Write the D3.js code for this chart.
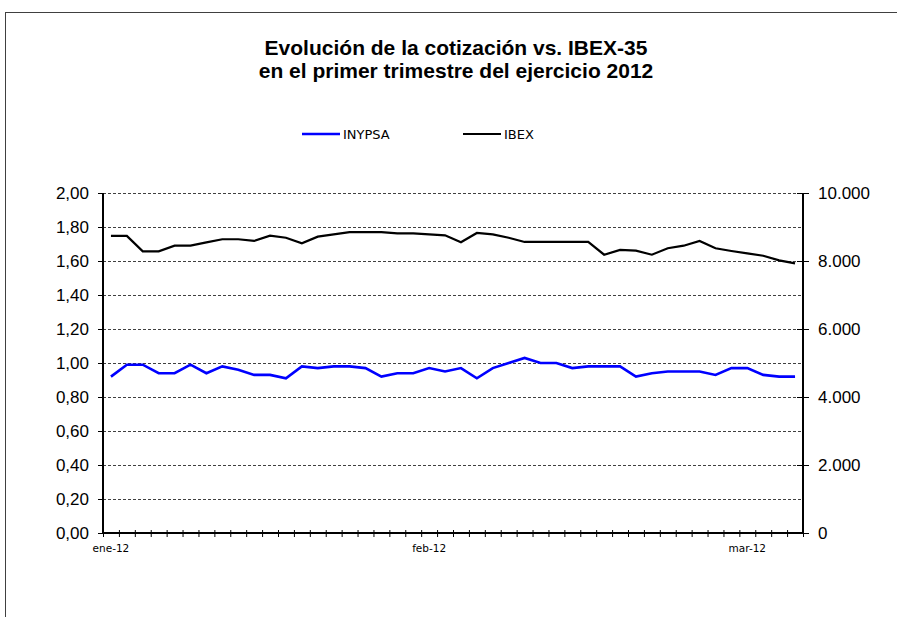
<!DOCTYPE html>
<html>
<head>
<meta charset="utf-8">
<script src="https://cdn.jsdelivr.net/npm/d3@7"></script>
<style>
  body { margin: 0; background: #fff; }
  text { font-family: "Liberation Sans", Arial, sans-serif; }
</style>
</head>
<body>
<script>
  // data (one value per session)
  var inypsa = [0.92, 0.99, 0.99, 0.94, 0.94, 0.99, 0.94, 0.98, 0.96, 0.93, 0.93, 0.91,
                0.98, 0.97, 0.98, 0.98, 0.97, 0.92, 0.94, 0.94, 0.97, 0.95, 0.97, 0.91,
                0.97, 1.00, 1.03, 1.00, 1.00, 0.97, 0.98, 0.98, 0.98, 0.92, 0.94, 0.95,
                0.95, 0.95, 0.93, 0.97, 0.97, 0.93, 0.92, 0.92];
  var ibex = [8740, 8740, 8285, 8285, 8450, 8450, 8550, 8640, 8640, 8590, 8745, 8685,
              8520, 8715, 8785, 8850, 8850, 8850, 8815, 8815, 8785, 8755, 8550, 8825,
              8785, 8685, 8560, 8560, 8560, 8560, 8560, 8185, 8325, 8305, 8185, 8375,
              8450, 8590, 8375, 8295, 8225, 8155, 8020, 7930];
  var monthLabels = ['ene-12', 'feb-12', 'mar-12'];
  var labelEvery = 20;
  var leftTicks = d3.range(0, 2.001, 0.2);
  var rightTicks = d3.range(0, 10001, 2000);
  var seriesNames = ['INYPSA', 'IBEX'];
  var titleLines = ['Evolución de la cotización vs. IBEX-35', 'en el primer trimestre del ejercicio 2012'];

  var W = 897, H = 617;
  var pLeft = 103, pRight = 803, pTop = 193, pBottom = 533;

  var svg = d3.select('body').append('svg').attr('width', W).attr('height', H);

  // outer chart frame (runs off the right and bottom edges)
  svg.append('rect')
    .attr('x', 5.5).attr('y', 12.5).attr('width', 1000).attr('height', 1000)
    .attr('fill', 'none').attr('stroke', '#404040').attr('stroke-width', 1);

  var n = inypsa.length;
  var x = d3.scaleLinear().domain([0, n]).range([pLeft, pRight]);
  var yL = d3.scaleLinear().domain([0, 2]).range([pBottom, pTop]);
  var yR = d3.scaleLinear().domain([0, 10000]).range([pBottom, pTop]);

  // gridlines
  svg.append('g').selectAll('line')
    .data(leftTicks.filter(function(d){ return d > 0; }))
    .enter().append('line')
    .attr('x1', pLeft).attr('x2', pRight)
    .attr('y1', function(d){ return Math.round(yL(d)) + 0.5; })
    .attr('y2', function(d){ return Math.round(yL(d)) + 0.5; })
    .attr('stroke', '#404040').attr('stroke-dasharray', '3,2');

  var fmtL = function(d){ return d3.format('.2f')(d).replace('.', ','); };
  var fmtR = function(d){ return d3.format(',')(d).replace(/,/g, '.'); };

  // left axis
  var gl = svg.append('g').attr('transform', 'translate(' + pLeft + ',0)')
    .call(d3.axisLeft(yL).tickValues(leftTicks).tickFormat(fmtL).tickSize(5).tickPadding(9));
  gl.selectAll('text').attr('font-size', '17px').attr('fill', '#000')
    .attr('font-family', '"Liberation Sans", Arial, sans-serif');

  // right axis
  var gr = svg.append('g').attr('transform', 'translate(' + pRight + ',0)')
    .call(d3.axisRight(yR).tickValues(rightTicks).tickFormat(fmtR).tickSize(6).tickPadding(9));
  gr.selectAll('.tick line').attr('x1', -6);
  gr.selectAll('text').attr('font-size', '17px').attr('fill', '#000')
    .attr('font-family', '"Liberation Sans", Arial, sans-serif');

  // bottom axis: ticks between sessions, crossing the line
  var gb = svg.append('g').attr('transform', 'translate(0,' + pBottom + ')')
    .call(d3.axisBottom(x).tickValues(d3.range(n + 1)).tickFormat('').tickSize(4));
  gb.selectAll('.tick line').attr('y1', -3);

  [gl, gr, gb].forEach(function(g){
    g.select('.domain').attr('stroke', '#000').attr('stroke-width', 2);
    g.selectAll('.tick line').attr('stroke', '#000');
  });
  gl.select('.domain').attr('d', 'M0,' + pTop + 'V' + pBottom);
  gr.select('.domain').attr('d', 'M0,' + pTop + 'V' + pBottom);
  gb.select('.domain').attr('d', 'M' + pLeft + ',0H' + pRight);

  // month labels
  svg.append('g').selectAll('text')
    .data(monthLabels).enter().append('text')
    .attr('x', function(d, i){ return x(i * labelEvery + 0.5); })
    .attr('y', pBottom + 19)
    .attr('text-anchor', 'middle')
    .style('font-family', '"DejaVu Sans", sans-serif')
    .attr('font-size', '10.5px')
    .text(function(d){ return d; });

  // lines
  var lineL = d3.line().x(function(d, i){ return x(i + 0.5); }).y(function(d){ return yL(d); });
  var lineR = d3.line().x(function(d, i){ return x(i + 0.5); }).y(function(d){ return yR(d); });

  svg.append('path').datum(ibex).attr('d', lineR)
    .attr('fill', 'none').attr('stroke', '#000').attr('stroke-width', 2.2);
  svg.append('path').datum(inypsa).attr('d', lineL)
    .attr('fill', 'none').attr('stroke', '#0000ff').attr('stroke-width', 2.6);

  // title
  svg.append('g').selectAll('text')
    .data(titleLines).enter().append('text')
    .attr('x', 456).attr('y', function(d, i){ return 55 + i * 23; })
    .attr('text-anchor', 'middle')
    .attr('font-weight', 'bold').attr('font-size', '21px')
    .text(function(d){ return d; });

  // legend
  var legColors = ['#0000ff', '#000'];
  var legX = [302, 463];
  var leg = svg.append('g').selectAll('g')
    .data(seriesNames).enter().append('g')
    .attr('transform', function(d, i){ return 'translate(' + legX[i] + ',134)'; });
  leg.append('line').attr('x1', 0).attr('x2', 38)
    .attr('stroke', function(d, i){ return legColors[i]; })
    .attr('stroke-width', function(d, i){ return i === 0 ? 2.6 : 2.2; });
  leg.append('text').attr('x', 41).attr('y', 5)
    .style('font-family', '"DejaVu Sans", sans-serif')
    .attr('font-size', '13px')
    .text(function(d){ return d; });
</script>
</body>
</html>
